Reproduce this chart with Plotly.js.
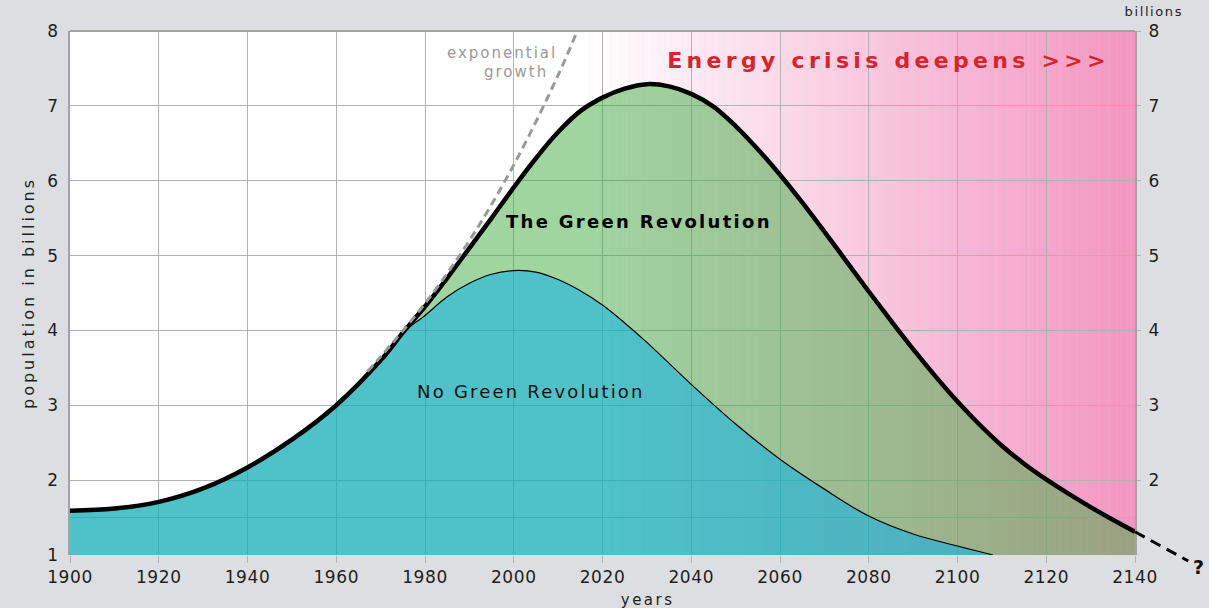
<!DOCTYPE html>
<html><head><meta charset="utf-8">
<script src="https://cdn.plot.ly/plotly-3.0.1.min.js"></script>
<style>html,body{margin:0;padding:0;background:#dddee1;}#chart{width:1209px;height:608px;}</style>
</head><body><div id="chart"></div>
<script>
// ---- data ----
const years = [1900,1910,1920,1930,1940,1950,1960,1970,1975,1980,1985,1990,1995,2000,2005,2010,2015,2020,2025,2030,2035,2040,2045,2050,2055,2060,2065,2070,2075,2080,2085,2090,2095,2100,2105,2110,2115,2120,2125,2130,2135,2140];
const greenRevolution = [1.59,1.62,1.71,1.89,2.17,2.54,3.00,3.60,3.97,4.32,4.70,5.10,5.50,5.91,6.30,6.65,6.93,7.11,7.23,7.29,7.26,7.16,6.99,6.73,6.42,6.08,5.71,5.32,4.92,4.52,4.13,3.75,3.39,3.05,2.74,2.46,2.22,2.01,1.82,1.64,1.47,1.31];
const noGreenYears = [1900,1910,1920,1930,1940,1950,1960,1970,1975,1980,1985,1990,1995,2000,2005,2010,2015,2020,2025,2030,2040,2050,2060,2070,2080,2090,2100,2108];
const noGreenRevolution = [1.59,1.62,1.71,1.89,2.17,2.54,3.00,3.60,3.97,4.20,4.45,4.63,4.75,4.80,4.78,4.68,4.53,4.34,4.10,3.84,3.28,2.75,2.28,1.88,1.52,1.28,1.12,1.00];
const expYears = [1967,1970,1980,1990,2000,2010,2015];
const expGrowth = [3.45,3.65,4.36,5.20,6.21,7.41,8.10];
const outlookYears = [2140,2152];
const outlookValues = [1.31,0.92];
const xTicks = [1900,1920,1940,1960,1980,2000,2020,2040,2060,2080,2100,2120,2140];
const yTicksLeft = [1,1.5,2,3,4,5,6,7,8];
const yTickTextLeft = ['1','','2','3','4','5','6','7','8'];
const yTicksRight = [2,3,4,5,6,7,8];

// ---- layout geometry ----
const M = {l:70, r:8, t:31, b:31};
const plotW = 1209 - M.l - M.r;
const plotH = 608 - M.t - M.b;
const xDom = 1065 / plotW;
const yDom0 = 22 / plotH;
const XR = [1900, 2140], YR = [1, 8];
const x3max = XR[0] + (XR[1] - XR[0]) / xDom;
const y3min = YR[1] - (YR[1] - YR[0]) / (1 - yDom0);

const FONT = 'DejaVu Sans';
const GRID = '#b2b2b2';
const AXL = '#a3a3a3';

// background: white then gradient to pink (below grid)
const shapes = [];
const gradStart = 2016;
shapes.push({type:'rect', xref:'x', yref:'y domain', x0:XR[0], x1:gradStart+0.5, y0:0, y1:1, fillcolor:'#ffffff', line:{width:0}, layer:'below'});
const pinkEnd = [243,149,192];
for (let v = gradStart; v < XR[1]; v += 1) {
  const t = (v + 0.5 - gradStart) / (XR[1] - gradStart);
  const c = [0,1,2].map(i => Math.round(255 + (pinkEnd[i] - 255) * t));
  shapes.push({type:'rect', xref:'x', yref:'y domain', x0:v, x1:v + 1.05, y0:0, y1:1,
    fillcolor:`rgb(${c[0]},${c[1]},${c[2]})`, line:{width:0}, layer:'below'});
}
// top frame line
shapes.push({type:'line', xref:'x domain', yref:'y domain', x0:0, x1:1, y0:1, y1:1, line:{color:AXL, width:2}, layer:'above'});

const traces = [
  { // No Green Revolution area (extended along baseline for the stacked fill)
    x: noGreenYears.concat([XR[1]]), y: noGreenRevolution.concat([YR[0]]),
    mode:'lines', line:{width:0, shape:'spline'}, fill:'tozeroy',
    fillcolor:'rgba(20,174,183,0.75)', hoverinfo:'skip', showlegend:false
  },
  { // Green Revolution area + thick curve
    x: years, y: greenRevolution, mode:'lines',
    line:{width:4.5, color:'#000000', shape:'spline'}, fill:'tonexty',
    fillcolor:'rgba(65,171,65,0.5)', hoverinfo:'skip', showlegend:false
  },
  { // thin outline of No Green Revolution
    x: noGreenYears, y: noGreenRevolution, mode:'lines',
    line:{width:1.2, color:'#000000', shape:'spline'}, hoverinfo:'skip', showlegend:false
  },
  { // exponential growth
    x: expYears, y: expGrowth, yaxis:'y2', mode:'lines',
    line:{width:3, color:'#9a9a9a', dash:'8px,5px', shape:'spline'}, hoverinfo:'skip', showlegend:false
  },
  { // outlook beyond the axis
    x: outlookYears, y: outlookValues, xaxis:'x3', yaxis:'y3', mode:'lines',
    line:{width:3, color:'#000000', dash:'11px,7px'}, hoverinfo:'skip', showlegend:false
  }
];

const tickFont = {family:FONT, size:17, color:'#1e1e1e'};
const layout = {
  width:1209, height:608, margin:M,
  paper_bgcolor:'#dddee1', plot_bgcolor:'rgba(0,0,0,0)',
  showlegend:false,
  xaxis:{domain:[0, xDom], range:XR, anchor:'y', tickvals:xTicks, ticks:'outside', ticklen:7, tickwidth:1, tickcolor:GRID,
    showgrid:true, gridcolor:GRID, gridwidth:1, showline:false, zeroline:false, tickfont:tickFont, fixedrange:true},
  yaxis:{domain:[yDom0, 1], range:YR, anchor:'x', tickvals:yTicksLeft, ticktext:yTickTextLeft, ticks:'',
    showgrid:true, gridcolor:GRID, gridwidth:1, showline:true, linecolor:AXL, linewidth:2, zeroline:false,
    tickfont:tickFont, ticklabelstandoff:6, fixedrange:true},
  yaxis2:{overlaying:'y', side:'right', anchor:'x', range:YR, tickvals:yTicksRight, ticks:'outside', ticklen:4, tickcolor:GRID,
    showgrid:false, showline:true, linecolor:AXL, linewidth:2, zeroline:false, tickfont:tickFont, ticklabelstandoff:4, fixedrange:true},
  xaxis3:{domain:[0,1], range:[XR[0], x3max], anchor:'y3', visible:false, fixedrange:true},
  yaxis3:{domain:[0,1], range:[y3min, YR[1]], anchor:'x3', visible:false, fixedrange:true},
  shapes: shapes,
  annotations:[
    {text:'Energy crisis deepens >>>', xref:'x', yref:'y', x:2084.5, y:7.6, showarrow:false, xanchor:'center', yanchor:'middle',
      font:{family:FONT, size:22, color:'#d8232d', weight:'bold'}},
    {text:'The Green Revolution', xref:'x', yref:'y', x:2028.2, y:5.45, showarrow:false, xanchor:'center', yanchor:'middle',
      font:{family:FONT, size:18, color:'#000000', weight:'bold'}},
    {text:'No Green Revolution', xref:'x', yref:'y', x:2003.9, y:3.18, showarrow:false, xanchor:'center', yanchor:'middle',
      font:{family:FONT, size:18, color:'#111111'}},
    {text:'exponential', xref:'x', yref:'y', x:1997.3, y:7.71, showarrow:false, xanchor:'center', yanchor:'middle',
      font:{family:FONT, size:15, color:'#9a9a9a'}},
    {text:'growth', xref:'x', yref:'y', x:2000.4, y:7.45, showarrow:false, xanchor:'center', yanchor:'middle',
      font:{family:FONT, size:15, color:'#9a9a9a'}},
    {text:'?', xref:'x3', yref:'y3', x:2154.2, y:0.84, showarrow:false, xanchor:'center', yanchor:'middle',
      font:{family:FONT, size:19, color:'#111111', weight:'bold'}},
    {text:'billions', xref:'x3', yref:'paper', x:2144.2, y:1 + 19/plotH, showarrow:false, xanchor:'center', yanchor:'middle',
      font:{family:FONT, size:13, color:'#1e1e1e'}},
    {text:'years', xref:'x3', yref:'paper', x:2030.1, y:-23/plotH, showarrow:false, xanchor:'center', yanchor:'middle',
      font:{family:FONT, size:15, color:'#1e1e1e'}},
    {text:'population in billions', xref:'paper', yref:'y domain', x:-42/plotW, y:0.5, textangle:-90, showarrow:false,
      xanchor:'center', yanchor:'middle', font:{family:FONT, size:16, color:'#1e1e1e'}}
  ]
};

const spacing = [4.3, 2.3, 2.2, 2.0, 2.0, 0, 1.6, 2.5, 3.0];
Plotly.newPlot('chart', traces, layout, {staticPlot:true, displayModeBar:false}).then(gd => {
  gd.querySelectorAll('.annotation').forEach((a, i) => {
    a.querySelectorAll('text').forEach(t => { t.style.letterSpacing = spacing[i] + 'px'; });
  });
  gd.querySelectorAll('.xtick text, .ytick text, .y2tick text').forEach(t => { t.style.letterSpacing = '0.6px'; });
});
</script>
</body></html>
